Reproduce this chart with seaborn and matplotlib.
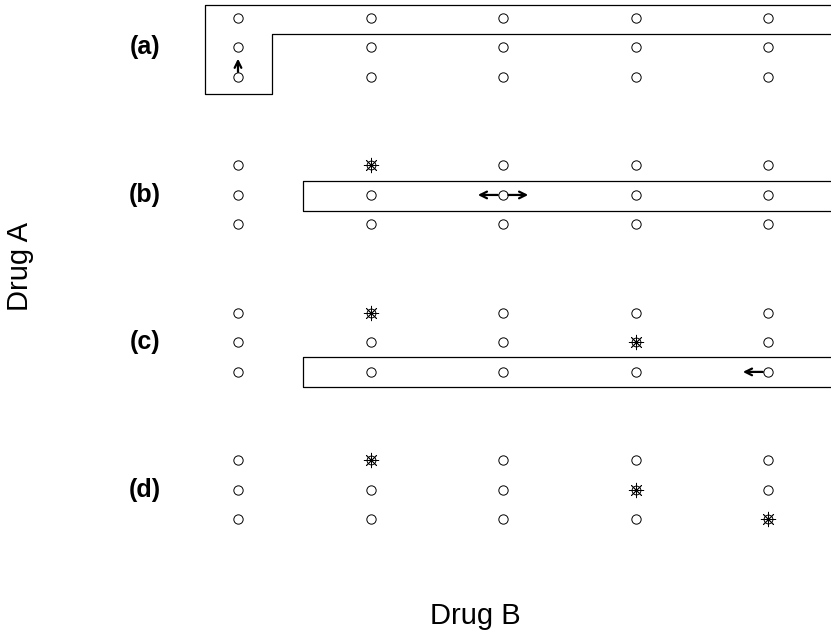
import matplotlib
matplotlib.use("Agg")
import matplotlib.pyplot as plt
import seaborn as sns
import pandas as pd

# Grid: 5 doses of Drug B (columns) x 3 doses of Drug A (rows), four panels
panels = ["(a)", "(b)", "(c)", "(d)"]
n_cols = 5
n_rows = 3
panel_gap = 5  # rows between panel starts

# starred cells per panel: (column, row)
starred = {
    "(a)": [],
    "(b)": [(1, 0)],
    "(c)": [(1, 0), (3, 1)],
    "(d)": [(1, 0), (3, 1), (4, 2)],
}

# outlined regions (x, y vertices) per panel, relative to panel top row
outlines = {
    "(a)": [(6, -0.45), (-0.25, -0.45), (-0.25, 2.57), (0.26, 2.57), (0.26, 0.55), (6, 0.55)],
    "(b)": [(6, 0.52), (0.49, 0.52), (0.49, 1.53), (6, 1.53)],
    "(c)": [(6, 1.5), (0.49, 1.5), (0.49, 2.5), (6, 2.5)],
}

# arrows: (panel, column, row, dx, dy) from the cell
arrows = [
    ("(a)", 0, 2, 0, -0.45),
    ("(b)", 2, 1, -0.15, 0),
    ("(b)", 2, 1, 0.15, 0),
    ("(c)", 4, 2, -0.15, 0),
]

rows = []
for p, name in enumerate(panels):
    for r in range(n_rows):
        for c in range(n_cols):
            rows.append({"panel": name, "col": c, "row": p * panel_gap + r,
                         "star": (c, r) in starred[name]})
df = pd.DataFrame(rows)

sns.set_theme(style="white")
plt.rcParams["font.family"] = ["Liberation Sans", "DejaVu Sans"]
plt.rcParams["text.color"] = "black"

fig = plt.figure(figsize=(8.31, 6.35), dpi=100)
ax = fig.add_axes([0, 0, 1, 1])

plain = df[~df["star"]]
star = df[df["star"]]
sns.scatterplot(data=plain, x="col", y="row", ax=ax, marker="o", s=45,
                facecolor="white", edgecolor="black", linewidth=0.7, zorder=3)
sns.scatterplot(data=star, x="col", y="row", ax=ax, marker="o", s=40,
                facecolor="white", edgecolor="black", linewidth=0.7, zorder=3)
sns.scatterplot(data=star, x="col", y="row", ax=ax, marker=(8, 2, 0), s=110,
                color="black", linewidth=0.6, zorder=4)

for name, verts in outlines.items():
    p = panels.index(name)
    xs = [v[0] for v in verts]
    ys = [v[1] + p * panel_gap for v in verts]
    ax.plot(xs, ys, color="black", linewidth=0.9, zorder=2)

for name, c, r, dx, dy in arrows:
    p = panels.index(name)
    y = p * panel_gap + r
    sx = c + (0.04 if dx > 0 else -0.04 if dx < 0 else 0)
    sy = y + (-0.17 if dy < 0 else 0)
    ax.annotate("", xy=(sx + dx, sy + dy), xytext=(sx, sy),
                arrowprops=dict(arrowstyle="->", color="black", lw=1.6,
                                shrinkA=0, shrinkB=0, mutation_scale=12),
                zorder=5)

for p, name in enumerate(panels):
    ax.text(-0.70, p * panel_gap + 1, name, ha="center", va="center",
            fontsize=18, fontweight="bold")

ax.text(-1.645, 8.44, "Drug A", rotation=90, ha="center", va="center", fontsize=21)
ax.text(1.79, 20.54, "Drug B", ha="center", va="baseline", fontsize=21)

ax.set_xlim(-1.796, 4.475)
ax.set_ylim(20.92, -0.61)
ax.set_axis_off()

fig.savefig("out.png", dpi=100)
